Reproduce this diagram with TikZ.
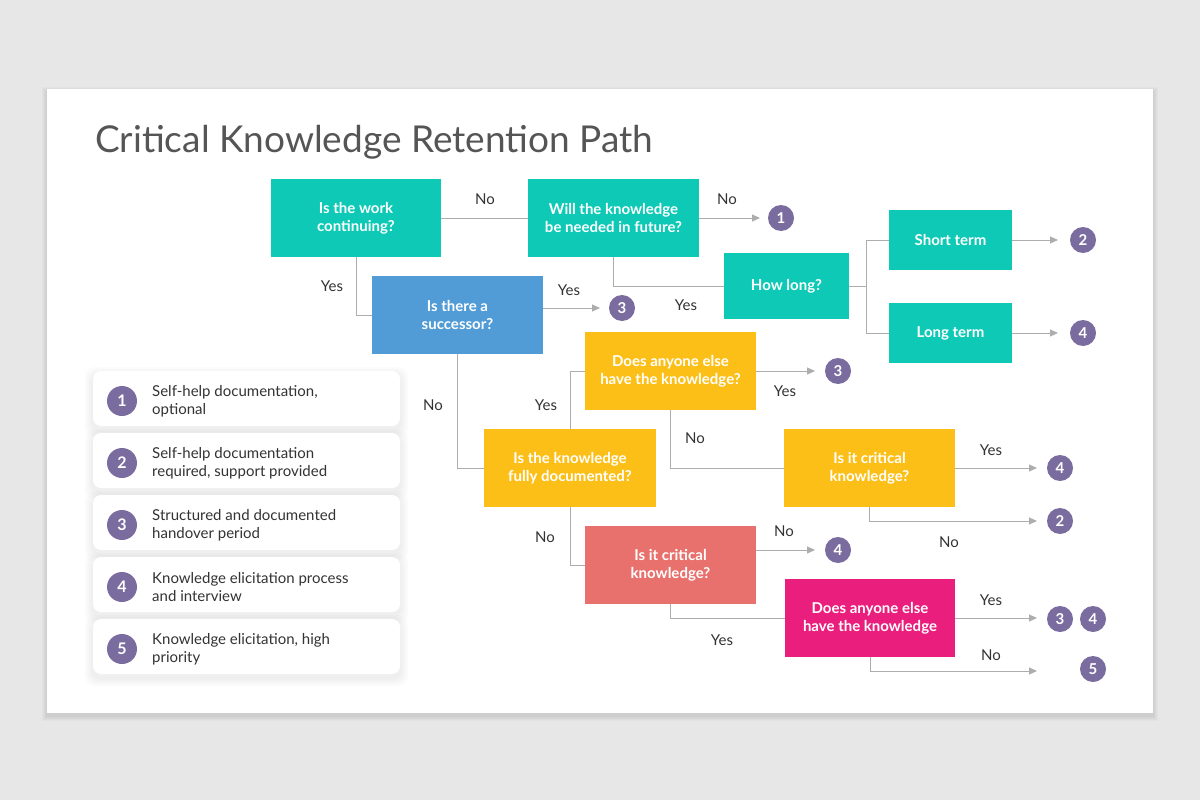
\documentclass[tikz,border=0pt]{standalone}
\usepackage{fontspec}
\setmainfont{Lato}
\usetikzlibrary{arrows.meta}
\definecolor{cBg}{HTML}{E8E7E8}
\definecolor{cTeal}{HTML}{0DC9B6}
\definecolor{cBlue}{HTML}{519CD6}
\definecolor{cYel}{HTML}{FCBF17}
\definecolor{cSal}{HTML}{E8716D}
\definecolor{cMag}{HTML}{EA1E7C}
\definecolor{cPur}{HTML}{7A6C9F}
\definecolor{cLine}{HTML}{ADADAD}
\definecolor{cTxt}{HTML}{333333}
\definecolor{cTitle}{HTML}{555555}
\begin{document}
\begin{tikzpicture}[x=1pt,y=-1pt,
  qbox/.style={inner sep=2pt, align=center, text=white, font=\fontsize{15}{18}\selectfont\bfseries, minimum width=171pt, minimum height=78pt},
  conn/.style={draw=cLine, line width=1pt},
  arr/.style={conn, -{Triangle[length=8pt,width=7pt,fill=cLine]}},
  lbl/.style={text=cTxt, font=\fontsize{15}{18}\selectfont, inner sep=0pt},
  num/.style={circle, fill=cPur, text=white, minimum size=26pt, inner sep=0pt, font=\fontsize{15}{15}\selectfont\bfseries},
  lnum/.style={circle, fill=cPur, text=white, minimum size=30pt, inner sep=0pt, font=\fontsize{16}{16}\selectfont\bfseries},
  shade/.style={fill=black, fill opacity=0.016, rounded corners=10pt},
  ltext/.style={anchor=west, align=left, text=cTxt, font=\fontsize{15}{18}\selectfont, inner sep=0pt}
]
\useasboundingbox (0,0) rectangle (1200,800);
\fill[cBg] (0,0) rectangle (1200,800);
% card shadow
\foreach \d in {1,2,3,4,5} {
  \fill[black, fill opacity=0.018] (47-\d,89-\d+3) rectangle (1153+\d,713+\d+3);
}
\fill[white] (47,89) rectangle (1153,713);

\node[anchor=base west, text=cTitle, font=\fontsize{37}{40}\selectfont, inner sep=0pt] (title) at (95,152) {Critical Knowledge Retention Path};

% boxes
\node[qbox, fill=cTeal, minimum width=170pt] (A) at (356,218) {Is the work\\continuing?};
\node[qbox, fill=cTeal] (B) at (613.5,218) {Will the knowledge\\be needed in future?};
\node[qbox, fill=cTeal, minimum width=125pt, minimum height=66pt] (C) at (786.5,286) {How long?};
\node[qbox, fill=cTeal, minimum width=123pt, minimum height=60pt] (D) at (950.5,240) {Short term};
\node[qbox, fill=cTeal, minimum width=123pt, minimum height=60pt] (E) at (950.5,333) {Long term};
\node[qbox, fill=cBlue] (F) at (457.5,315) {Is there a\\successor?};
\node[qbox, fill=cYel] (G) at (670.5,371) {Does anyone else\\have the knowledge?};
\node[qbox, fill=cYel, minimum width=172pt] (H) at (570,468) {Is the knowledge\\fully documented?};
\node[qbox, fill=cYel] (I) at (869.5,468) {Is it critical\\knowledge?};
\node[qbox, fill=cSal] (J) at (670.5,565) {Is it critical\\knowledge?};
\node[qbox, fill=cMag, minimum width=170pt] (K) at (870,618) {Does anyone else\\have the knowledge};

% numbered outcomes
\node[num] (n1) at (781,218) {1};
\node[num] (n3a) at (622,308) {3};
\node[num] (n2a) at (1083,240) {2};
\node[num] (n4a) at (1083,333) {4};
\node[num] (n3b) at (838,371) {3};
\node[num] (n4b) at (1060,468) {4};
\node[num] (n2b) at (1060,521) {2};
\node[num] (n4c) at (838,550) {4};
\node[num] (n3c) at (1060,619) {3};
\node[num] (n4d) at (1093,619) {4};
\node[num] (n5) at (1093,669) {5};

% arrow end points
\coordinate (e1) at (760,218);
\coordinate (e3a) at (600,308);
\coordinate (e2a) at (1058,240);
\coordinate (e4a) at (1058,333);
\coordinate (e3b) at (815,371);
\coordinate (e4b) at (1037,468);
\coordinate (e2b) at (1037,521);
\coordinate (e4c) at (815,550);
\coordinate (e34) at (1037,618);
\coordinate (e5) at (1037,671);
\coordinate (cj) at (866,286);

% connectors
\draw[conn] (A.east) -- (B.west);
\draw[arr] (B.east) -- (e1);
\draw[conn] (B.south) |- (C.west);
\draw[conn] (C.east) -- (cj);
\draw[conn] (cj) |- (D.west);
\draw[conn] (cj) |- (E.west);
\draw[arr] (D.east) -- (e2a);
\draw[arr] (E.east) -- (e4a);
\draw[conn] (A.south) |- (F.west);
\draw[arr] (F.east |- e3a) -- (e3a);
\draw[conn] (F.south) |- (H.west);
\draw[conn] (H.north) |- (G.west);
\draw[arr] (G.east) -- (e3b);
\draw[conn] (G.south) |- (I.west);
\draw[arr] (I.east) -- (e4b);
\draw[arr] (I.south) |- (e2b);
\draw[conn] (H.south) |- (J.west);
\draw[arr] (J.east |- e4c) -- (e4c);
\draw[conn] (J.south) |- (K.west);
\draw[arr] (K.east) -- (e34);
\draw[arr] (K.south) |- (e5);

% labels
\node[lbl] (l1) at (485,199) {No};
\node[lbl] (l2) at (727,199) {No};
\node[lbl] (l3) at (332,286) {Yes};
\node[lbl] (l4) at (569,290) {Yes};
\node[lbl] (l5) at (686,305) {Yes};
\node[lbl] (l6) at (433,405) {No};
\node[lbl] (l7) at (546,405) {Yes};
\node[lbl] (l8) at (785,391) {Yes};
\node[lbl] (l9) at (695,438) {No};
\node[lbl] (l10) at (991,450) {Yes};
\node[lbl] (l11) at (949,542) {No};
\node[lbl] (l12) at (545,537) {No};
\node[lbl] (l13) at (784,531) {No};
\node[lbl] (l14) at (722,640) {Yes};
\node[lbl] (l15) at (991,600) {Yes};
\node[lbl] (l16) at (991,655) {No};

% legend
\foreach \i/\y/\t in {1/371/{Self-help documentation,\\optional},
                      2/433/{Self-help documentation\\required, support provided},
                      3/495/{Structured and documented\\handover period},
                      4/557/{Knowledge elicitation process\\and interview},
                      5/619/{Knowledge elicitation, high\\priority}} {
  \foreach \d in {2,4,6,8} {
    \fill[shade] (93-\d,\y-\d+4) rectangle (400+\d,\y+55+\d+4);
  }
  \fill[white, rounded corners=8pt] (93,\y) rectangle (400,\y+55);
  \node[lnum] (L\i) at (122,\y+30) {\i};
  \node[ltext] (T\i) at (152,\y+30) {\t};
}
\end{tikzpicture}
\end{document}
